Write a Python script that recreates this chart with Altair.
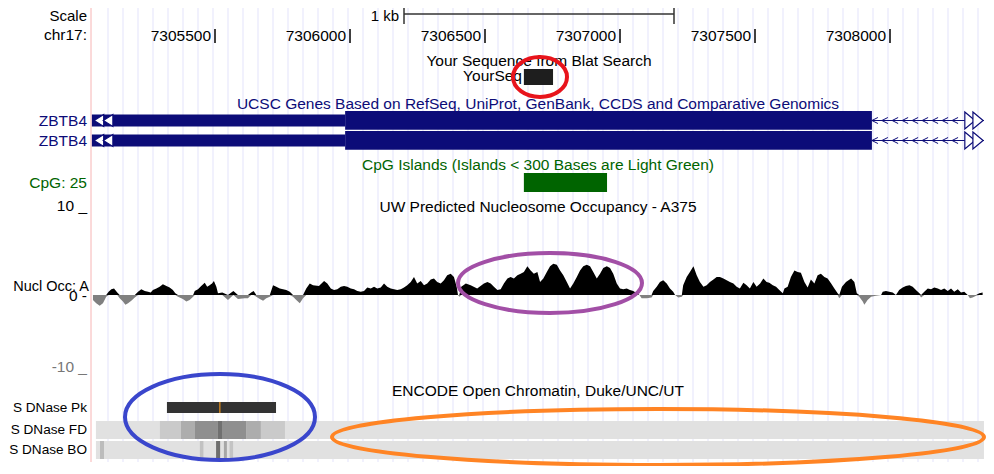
import altair as alt
import pandas as pd

FONT = "Liberation Sans"
FS = 15.5
NAVY = "#0c0c78"
GREEN = "#006400"

# ---------------- data ----------------
tick_positions = [7305500, 7306000, 7306500, 7307000, 7307500, 7308000]
tick_labels = ["7305500", "7306000", "7306500", "7307000", "7307500", "7308000"]
scale_bar = [7306200, 7307200]          # 1 kb

blat_block = [7306644, 7306752]          # YourSeq
cpg_block = [7306644, 7306952]           # CpG: 25

gene_thin = [7305044, 7305982]
gene_thick = [7305982, 7307933]
gene_intron = [7307933, 7308348]
intron_arrows = [7307944, 7307981, 7308019, 7308056, 7308093, 7308130, 7308167, 7308204, 7308241]
left_cont = [7305070, 7305104]
right_cont = [7308296, 7308326]

wig_pos = [
    7305048, 7305060, 7305073, 7305085, 7305097, 7305106, 7305116, 7305126, 7305138, 7305147,
    7305159, 7305168, 7305178, 7305190, 7305203, 7305215, 7305227, 7305240, 7305252, 7305262,
    7305270, 7305283, 7305295, 7305307, 7305320, 7305332, 7305344, 7305353, 7305363, 7305381,
    7305394, 7305406, 7305419, 7305425, 7305437, 7305449, 7305462, 7305471, 7305480, 7305489,
    7305496, 7305505, 7305511, 7305527, 7305548, 7305568, 7305585, 7305610, 7305622, 7305634,
    7305643, 7305653, 7305666, 7305678, 7305690, 7305703, 7305715, 7305727, 7305740, 7305752,
    7305764, 7305777, 7305789, 7305801, 7305814, 7305826, 7305838, 7305851, 7305863,
    7305885, 7305904, 7305916, 7305929, 7305941, 7305953, 7305966, 7305978, 7305990, 7306003,
    7306015, 7306027, 7306040, 7306052, 7306064, 7306077, 7306089, 7306101, 7306114, 7306126,
    7306138, 7306151, 7306163, 7306175, 7306188, 7306200, 7306212, 7306225, 7306237, 7306249,
    7306262, 7306274, 7306286, 7306299, 7306311, 7306323, 7306336, 7306348, 7306360, 7306373,
    7306385, 7306395, 7306400, 7306405, 7306412, 7306429, 7306447, 7306471, 7306496, 7306509,
    7306521, 7306533, 7306546, 7306558, 7306570, 7306583, 7306595, 7306607, 7306620, 7306632,
    7306644, 7306657, 7306669, 7306681, 7306694,
    7306704, 7306716, 7306729, 7306741, 7306753, 7306766, 7306778, 7306790, 7306803, 7306815,
    7306827, 7306840, 7306852, 7306864, 7306877, 7306889, 7306901, 7306914, 7306926, 7306938,
    7306951, 7306963, 7306975, 7306988, 7307000, 7307012, 7307025, 7307037, 7307049, 7307062,
    7307072, 7307080, 7307099, 7307117, 7307123, 7307136, 7307148, 7307160, 7307173, 7307185,
    7307197, 7307204, 7307216, 7307229, 7307234, 7307247, 7307259, 7307272, 7307284, 7307296,
    7307309, 7307321, 7307333, 7307346, 7307358, 7307370, 7307383, 7307395, 7307407, 7307420,
    7307432, 7307444, 7307457, 7307469, 7307481, 7307494, 7307506, 7307519, 7307531, 7307543,
    7307553, 7307566, 7307578, 7307590, 7307603, 7307609, 7307621, 7307633, 7307646, 7307658,
    7307670, 7307683, 7307695, 7307707, 7307720, 7307732, 7307744, 7307757, 7307769, 7307782,
    7307794, 7307806, 7307812, 7307822, 7307837, 7307856, 7307868, 7307877, 7307886, 7307899,
    7307905, 7307917, 7307930, 7307948, 7307967, 7307973, 7307985, 7307997, 7308010, 7308022,
    7308034, 7308047, 7308059, 7308072, 7308084, 7308096, 7308109, 7308115, 7308127, 7308140,
    7308152, 7308164, 7308177, 7308189, 7308201, 7308214, 7308226, 7308238, 7308251, 7308263,
    7308275, 7308288, 7308296, 7308306, 7308319, 7308331, 7308343,
]
wig_val = [
    -0.6, -1.0, -1.3, -1.0, -0.2, 0.4, 0.7, 0.8, 0.3, -0.4,
    -0.8, -1.2, -1.0, -0.7, -0.3, 0.4, 0.7, 0.5, 0.4, 0.3,
    0.6, 0.8, 1.0, 1.3, 1.1, 0.9, 0.6, 0.2, -0.2, -0.5,
    -0.8, -0.6, -0.2, 0.5, 0.7, 1.1, 1.5, 1.0, 1.2, 1.4,
    1.7, 1.0, 0.2, 0.3, -0.6, 0.5, -0.5, -0.4, -0.4, 0.3,
    0.5, -0.2, -0.5, -0.7, -0.4, -0.2, 1.2, 1.0, 0.8, 0.7,
    0.6, 0.4, -0.2, -0.6, -1.0, -0.4, 0.8, 1.4, 1.2,
    1.1, 1.7, 1.4, 0.8, 0.6, 0.7, 1.0, 1.1, 1.0, 0.8,
    0.7, 0.5, 0.4, 0.5, 0.9, 0.8, 1.0, 0.8, 0.9, 1.4,
    1.0, 0.8, 0.7, 0.6, 0.7, 0.9, 1.2, 1.6, 2.2, 1.4,
    1.7, 1.2, 1.4, 1.9, 2.0, 1.6, 1.4, 1.8, 2.4, 2.6,
    2.2, 1.0, 0.0, -0.2, 1.0, 1.4, 1.2, 0.8, 1.4, 1.6,
    1.4, 1.0, 0.6, 0.7, 1.4, 2.0, 2.2, 2.0, 2.4, 2.6,
    2.8, 3.5, 3.0, 2.6, 2.8,
    1.6, 2.0, 2.8, 3.5, 3.8, 3.7, 3.0, 2.4, 1.6, 0.8,
    1.4, 2.2, 3.0, 3.5, 3.7, 3.5, 2.8, 2.0, 2.6, 3.3,
    3.5, 3.3, 2.6, 1.4, 0.8, 0.7, 0.8, 0.6, 0.5, 0.2,
    0.0, -0.4, -0.4, -0.3, 0.5, 1.0, 1.6, 1.8, 1.4, 0.8,
    0.4, 0.0, -0.3, -0.2, 1.2, 2.2, 2.8, 3.5, 2.4, 1.6,
    1.0, 1.2, 1.6, 1.9, 2.2, 2.2, 2.0, 1.8, 1.6, 1.4,
    1.0, 0.8, 1.5, 1.2, 0.8, 1.6, 1.0, 1.4, 2.0, 1.6,
    1.5, 1.2, 1.0, 0.6, 0.2, 0.8, 1.0, 2.2, 3.0, 2.8,
    2.7, 1.6, 0.9, 1.9, 1.4, 2.4, 2.6, 2.2, 2.0, 1.4,
    0.8, 0.2, -0.4, 1.0, 1.6, 2.0, 1.6, 0.2, -0.2, -0.8,
    -1.2, -0.6, -0.2, -0.1, 0.0, 0.4, 0.5, 0.4, 0.3, 0.0,
    0.6, 0.9, 1.1, 1.2, 1.0, 0.6, 0.2, -0.3, 0.4, 0.8,
    0.7, 0.9, 0.8, 0.6, 0.8, 0.5, 0.8, 0.4, 0.7, 0.3,
    0.4, 0.0, -0.4, -0.3, -0.1, 0.2, 0.3,
]

dnase_peak = [7305322, 7305726]
dnase_summit = 7305518
band_extent = [7305059, 7308348]
fd_start = [7305296, 7305374, 7305426, 7305511, 7305526, 7305615, 7305670]
fd_end = [7305374, 7305426, 7305511, 7305526, 7305615, 7305670, 7305759]
fd_shade = ["#cacaca", "#adadad", "#8f8f8f", "#707070", "#8f8f8f", "#adadad", "#cacaca"]
bo_start = [7305074, 7305444, 7305504, 7305533, 7305554]
bo_end = [7305089, 7305457, 7305519, 7305544, 7305567]
bo_shade = ["#bcbcbc", "#c2c2c2", "#6e6e6e", "#a6a6a6", "#c4c4c4"]

# ---------------- helpers ----------------
OFF = 8  # page margin
xs = alt.Scale(domain=[7305500, 7308000], range=[215 - OFF, 890 - OFF], nice=False, zero=False)
ys = alt.Scale(domain=[-10, 10], range=[377 - OFF, 213 - OFF], nice=False, zero=False)


def X(field):
    return alt.X(field, type="quantitative", scale=xs, axis=None)


def one():
    return pd.DataFrame({"k": [0]})


def label(text, x, y, align="center", color="#000000", size=FS):
    return alt.Chart(pd.DataFrame({"t": [text]})).mark_text(
        align=align, baseline="middle", color=color, fontSize=size, font=FONT
    ).encode(x=alt.value(x - OFF), y=alt.value(y - OFF), text="t:N")


def hbar(start, end, y0, y1, color):
    return alt.Chart(pd.DataFrame({"s": [start], "e": [end]})).mark_rect(color=color).encode(
        x=X("s"), x2="e", y=alt.value(y0 - OFF), y2=alt.value(y1 - OFF)
    )


def ellipse(cx, cy, rx, ry, color):
    r = ry / rx
    path = f"M -1 0 A 1 {r:.4f} 0 1 1 1 0 A 1 {r:.4f} 0 1 1 -1 0 Z"
    return alt.Chart(one()).mark_point(
        shape=path, size=(2 * rx) ** 2, filled=False, color=color, stroke=color,
        strokeWidth=4, opacity=1
    ).encode(x=alt.value(cx - OFF), y=alt.value(cy - OFF))


layers = []

# guide lines
grid_px = list(range(108, 984, 15))
grid_df = pd.DataFrame({"g": [7305500 + (p - 215) / 0.27 for p in grid_px]})
layers.append(alt.Chart(grid_df).mark_rule(color="#e3e3fb", strokeWidth=1).encode(
    x=X("g"), y=alt.value(0), y2=alt.value(462 - OFF)))
layers.append(alt.Chart(one()).mark_rule(color="#f7b4b4", strokeWidth=1).encode(
    x=alt.value(91 - OFF), y=alt.value(0), y2=alt.value(462 - OFF)))

# ruler
layers.append(label("Scale", 87, 16, "right", size=15))
layers.append(label("chr17:", 87, 35, "right"))
layers.append(label("1 kb", 399, 15.5, "right", size=15))
sb = pd.DataFrame({"s": [scale_bar[0]], "e": [scale_bar[1]]})
layers.append(alt.Chart(sb).mark_rule(color="#333333", strokeWidth=1.3).encode(
    x=X("s"), x2="e", y=alt.value(14 - OFF)))
sbt = pd.DataFrame({"p": scale_bar})
layers.append(alt.Chart(sbt).mark_rule(color="#333333", strokeWidth=1.5).encode(
    x=X("p"), y=alt.value(4 - OFF), y2=alt.value(24 - OFF)))
tk = pd.DataFrame({"p": tick_positions, "t": tick_labels})
layers.append(alt.Chart(tk).mark_rule(color="#000000", strokeWidth=1.5).encode(
    x=X("p"), y=alt.value(29 - OFF), y2=alt.value(43 - OFF)))
layers.append(alt.Chart(tk).mark_text(align="right", baseline="middle", dx=-4, fontSize=FS,
                                      font=FONT, color="#000000").encode(
    x=X("p"), y=alt.value(36 - OFF), text="t:N"))

# BLAT
layers.append(label("Your Sequence from Blat Search", 539, 61))
layers.append(label("YourSeq", 522, 76, "right"))
layers.append(hbar(blat_block[0], blat_block[1], 69, 85, "#1e1e1e"))

# genes
layers.append(label("UCSC Genes Based on RefSeq, UniProt, GenBank, CCDS and Comparative Genomics",
                    538, 104, color=NAVY))
for row in range(2):
    cy = 120.5 + 20 * row
    layers.append(label("ZBTB4", 87, cy, "right", color=NAVY))
    layers.append(hbar(gene_thin[0], gene_thin[1], cy - 6, cy + 6, NAVY))
    layers.append(hbar(gene_thick[0], gene_thick[1], cy - 9.5, cy + 9.3, NAVY))
    intr = pd.DataFrame({"s": [gene_intron[0]], "e": [gene_intron[1]]})
    layers.append(alt.Chart(intr).mark_rule(color=NAVY, strokeWidth=1).encode(
        x=X("s"), x2="e", y=alt.value(cy - OFF)))
    arr = pd.DataFrame({"p": intron_arrows})
    layers.append(alt.Chart(arr).mark_point(
        shape="M 1 -1 L -1 0 L 1 1", size=36, filled=False, color=NAVY, strokeWidth=1, opacity=1
    ).encode(x=X("p"), y=alt.value(cy - OFF)))
    lc = pd.DataFrame({"p": left_cont})
    layers.append(alt.Chart(lc).mark_point(
        shape="M 0.8 -1 L -0.8 0 L 0.8 1 Z", size=144, filled=True, color="#ffffff",
        stroke=NAVY, strokeWidth=1.2, opacity=1
    ).encode(x=X("p"), y=alt.value(cy - OFF)))
    rc = pd.DataFrame({"p": right_cont})
    layers.append(alt.Chart(rc).mark_point(
        shape="M -0.6 -1 L 0.6 0 L -0.6 1 Z", size=289, filled=True, color="#ffffff",
        stroke=NAVY, strokeWidth=1.2, opacity=1
    ).encode(x=X("p"), y=alt.value(cy - OFF)))

# CpG
layers.append(label("CpG Islands (Islands < 300 Bases are Light Green)", 538, 165, color=GREEN))
layers.append(label("CpG: 25", 87, 183, "right", color=GREEN))
layers.append(hbar(cpg_block[0], cpg_block[1], 173, 192, GREEN))

# nucleosome wiggle
layers.append(label("10 _", 87, 206, "right"))
layers.append(label("UW Predicted Nucleosome Occupancy - A375", 538, 207))
wig = pd.DataFrame({"p": wig_pos, "v": wig_val})
wig["pos"] = wig["v"].clip(lower=0)
wig["neg"] = wig["v"].clip(upper=0)
layers.append(alt.Chart(wig).mark_area(color="#000000", interpolate="linear").encode(
    x=X("p"), y=alt.Y("pos:Q", scale=ys, axis=None)))
layers.append(alt.Chart(wig).mark_area(color="#808080", interpolate="linear").encode(
    x=X("p"), y=alt.Y("neg:Q", scale=ys, axis=None)))
layers.append(label("Nucl Occ: A", 89, 287, "right", size=14.5))
layers.append(label("0 -", 87, 296, "right"))
layers.append(label("-10 _", 87, 367, "right", color="#777777"))

# ENCODE DNase
layers.append(label("ENCODE Open Chromatin, Duke/UNC/UT", 538, 391))
layers.append(label("S DNase Pk", 87, 408, "right", size=13.6))
layers.append(label("S DNase FD", 87, 430, "right", size=13.6))
layers.append(label("S DNase BO", 87, 450, "right", size=13.6))
layers.append(hbar(dnase_peak[0], dnase_peak[1], 402, 413, "#333333"))
sm = pd.DataFrame({"p": [dnase_summit]})
layers.append(alt.Chart(sm).mark_rule(color="#e8901a", strokeWidth=1.2).encode(
    x=X("p"), y=alt.value(402 - OFF), y2=alt.value(413 - OFF)))
layers.append(hbar(band_extent[0], band_extent[1], 421, 439, "#e1e1e1"))
layers.append(hbar(band_extent[0], band_extent[1], 441, 459, "#e1e1e1"))
fd = pd.DataFrame({"s": fd_start, "e": fd_end, "c": fd_shade})
layers.append(alt.Chart(fd).mark_rect().encode(
    x=X("s"), x2="e", y=alt.value(421 - OFF), y2=alt.value(439 - OFF),
    color=alt.Color("c:N", scale=None)))
bo = pd.DataFrame({"s": bo_start, "e": bo_end, "c": bo_shade})
layers.append(alt.Chart(bo).mark_rect().encode(
    x=X("s"), x2="e", y=alt.value(441 - OFF), y2=alt.value(459 - OFF),
    color=alt.Color("c:N", scale=None)))

# hand-drawn annotation ellipses
layers.append(ellipse(540, 77, 27, 20, "#e8141c"))
layers.append(ellipse(550, 283, 92, 30, "#a24fa6"))
layers.append(ellipse(220, 417, 95, 43, "#3a46cc"))
layers.append(ellipse(658, 437, 326, 28, "#ff8424"))

chart = alt.layer(*layers).properties(
    width=978, height=458, padding=0,
    autosize=alt.AutoSizeParams(type="none"),
    background="#ffffff",
).configure_view(strokeWidth=0)

chart.save("out.html", embed_options={"renderer": "svg", "actions": False})
